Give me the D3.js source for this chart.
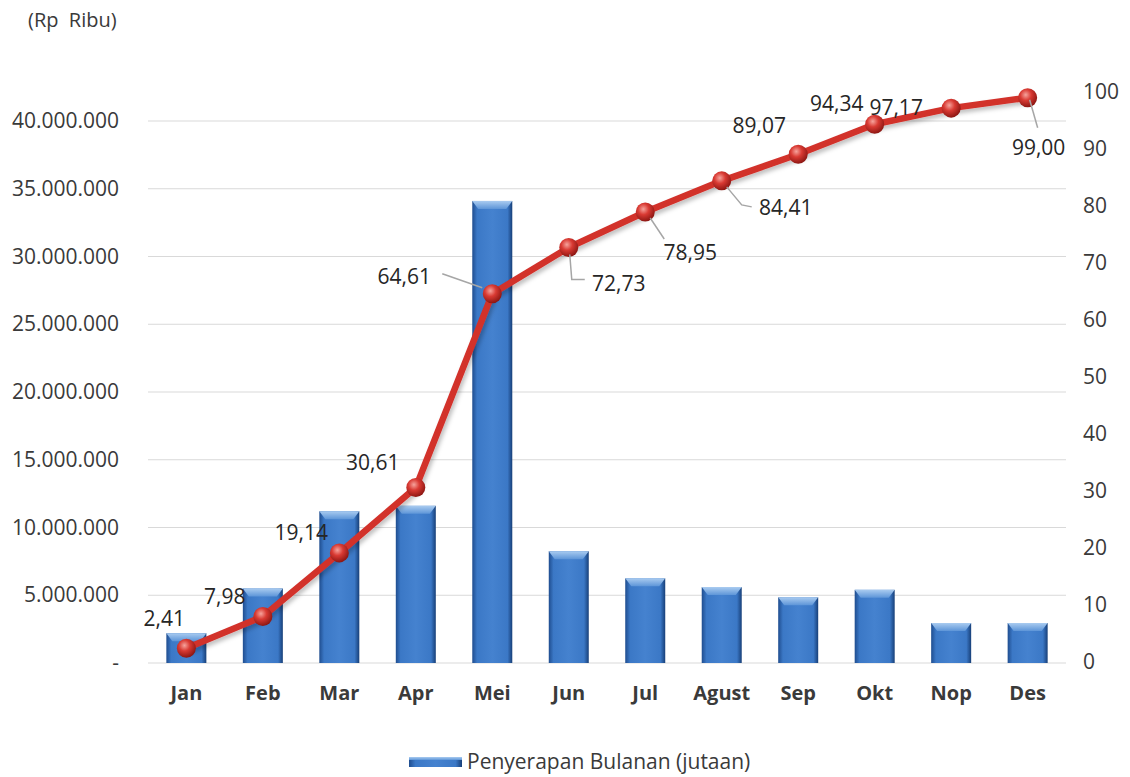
<!DOCTYPE html>
<html>
<head>
<meta charset="utf-8">
<script src="https://cdn.jsdelivr.net/npm/d3@7"></script>
<style>
  body { margin: 0; background: #fff; }
  text { font-family: "Open Sans", sans-serif; }
</style>
</head>
<body>
<script>
// data
var months = ["Jan", "Feb", "Mar", "Apr", "Mei", "Jun", "Jul", "Agust", "Sep", "Okt", "Nop", "Des"];
var monthly = [2200000, 5500000, 11200000, 11600000, 34100000, 8250000, 6250000, 5600000, 4850000, 5400000, 2950000, 2950000];
var cumulative = [2.41, 7.98, 19.14, 30.61, 64.61, 72.73, 78.95, 84.41, 89.07, 94.34, 97.17, 99.00];
var leftTicks = [0, 5000000, 10000000, 15000000, 20000000, 25000000, 30000000, 35000000, 40000000];
var rightTicks = [0, 10, 20, 30, 40, 50, 60, 70, 80, 90, 100];

// label placement (text centre relative to the point) and leader lines
var labelPos = [[-22, -30], [-38, -20], [-38, -20], [-43, -25], [-88, -17], [50, 36],
                [45, 41], [64, 27], [-39, -29], [-38, -21], [-55, 0], [11, 50]];
var leaders = [null, null, null, null, [[-50, -20], [-10, -6]], [[1, 7], [3, 32], [16, 32]],
               [[5, 6], [19, 27]], [[5, 6], [20, 24], [30, 26]], null, null, null, [[2, 2], [10, 30]]];

var W = 1130, H = 777;
var svg = d3.select("body").append("svg")
    .attr("width", W)
    .attr("height", H);

var defs = svg.append("defs");
var bg = defs.append("linearGradient").attr("id", "barGrad")
    .attr("x1", "0%").attr("x2", "100%").attr("y1", "0%").attr("y2", "0%");
bg.append("stop").attr("offset", "0%").attr("stop-color", "#1f4d8f");
bg.append("stop").attr("offset", "12%").attr("stop-color", "#3b78c6");
bg.append("stop").attr("offset", "50%").attr("stop-color", "#4582cf");
bg.append("stop").attr("offset", "88%").attr("stop-color", "#3b78c6");
bg.append("stop").attr("offset", "100%").attr("stop-color", "#173f78");

var tg = defs.append("linearGradient").attr("id", "topGrad")
    .attr("x1", "0%").attr("x2", "0%").attr("y1", "0%").attr("y2", "100%");
tg.append("stop").attr("offset", "0%").attr("stop-color", "#a9cbf0");
tg.append("stop").attr("offset", "100%").attr("stop-color", "#5d95d8");

var rg = defs.append("radialGradient").attr("id", "dotGrad")
    .attr("cx", "40%").attr("cy", "35%").attr("r", "65%");
rg.append("stop").attr("offset", "0%").attr("stop-color", "#f6a39c");
rg.append("stop").attr("offset", "45%").attr("stop-color", "#d93a33");
rg.append("stop").attr("offset", "100%").attr("stop-color", "#8e1713");

var shadow = defs.append("filter").attr("id", "shadow")
    .attr("x", "-10%").attr("y", "-10%").attr("width", "120%").attr("height", "130%");
shadow.append("feDropShadow").attr("dx", 2).attr("dy", 3).attr("stdDeviation", 2)
    .attr("flood-color", "#000").attr("flood-opacity", 0.25);

// scales
var x = d3.scaleBand().domain(months).range([148, 1066])
    .paddingInner(0.477).paddingOuter(0.24);
var yL = d3.scaleLinear().domain([0, 40000000]).range([663, 121]);
var yR = d3.scaleLinear().domain([0, 100]).range([662, 92]);

// gridlines
svg.append("g").selectAll("line")
    .data(leftTicks)
    .enter().append("line")
    .attr("x1", 148).attr("x2", 1066)
    .attr("y1", function(d) { return yL(d); })
    .attr("y2", function(d) { return yL(d); })
    .attr("stroke", "#d9d9d9")
    .attr("stroke-width", 1);

// left axis
var fmtL = function(d) { return d === 0 ? "-" : d3.format(",")(d).replace(/,/g, "."); };
var axL = svg.append("g")
    .attr("transform", "translate(131,0)")
    .call(d3.axisLeft(yL).tickValues(leftTicks).tickFormat(fmtL).tickSize(0).tickPadding(12));
axL.select(".domain").remove();
axL.selectAll("text").attr("font-size", 21).attr("fill", "#3a3a3a")
    .style("font-family", "'Open Sans', sans-serif");

// right axis
var axR = svg.append("g")
    .attr("transform", "translate(1071,0)")
    .call(d3.axisRight(yR).tickValues(rightTicks).tickSize(0).tickPadding(12));
axR.select(".domain").remove();
axR.selectAll("text").attr("font-size", 21).attr("fill", "#3a3a3a")
    .style("font-family", "'Open Sans', sans-serif");

// month labels
var axX = svg.append("g")
    .attr("transform", "translate(0,671)")
    .call(d3.axisBottom(x).tickSize(0).tickPadding(15));
axX.select(".domain").remove();
axX.selectAll("text").attr("font-size", 20).attr("font-weight", "bold").attr("fill", "#3a3a3a")
    .style("font-family", "'Open Sans', sans-serif");

// bars
var bars = svg.append("g").selectAll("g")
    .data(monthly)
    .enter().append("g");
bars.append("rect")
    .attr("x", function(d, i) { return x(months[i]); })
    .attr("y", function(d) { return yL(d); })
    .attr("width", x.bandwidth())
    .attr("height", function(d) { return yL(0) - yL(d); })
    .attr("fill", "url(#barGrad)");
bars.append("path")
    .attr("d", function(d, i) {
      var x0 = x(months[i]), x1 = x0 + x.bandwidth(), y0 = yL(d);
      return "M" + x0 + "," + y0 + "L" + x1 + "," + y0 + "L" + (x1 - 6) + "," + (y0 + 8) +
             "L" + (x0 + 6) + "," + (y0 + 8) + "Z";
    })
    .attr("fill", "url(#topGrad)");

// cumulative line
var px = function(i) { return x(months[i]) + x.bandwidth() / 2; };
var line = d3.line()
    .x(function(d, i) { return px(i); })
    .y(function(d) { return yR(d); });

svg.append("path")
    .datum(cumulative)
    .attr("d", line)
    .attr("fill", "none")
    .attr("stroke", "#d2302b")
    .attr("stroke-width", 6.5)
    .attr("stroke-linejoin", "round")
    .attr("filter", "url(#shadow)");

svg.append("g").selectAll("circle")
    .data(cumulative)
    .enter().append("circle")
    .attr("cx", function(d, i) { return px(i); })
    .attr("cy", function(d) { return yR(d); })
    .attr("r", 9.5)
    .attr("fill", "url(#dotGrad)");

// leader lines
var leaderData = cumulative.map(function(d, i) { return {v: d, i: i, pts: leaders[i]}; })
    .filter(function(o) { return o.pts !== null; });
svg.append("g").selectAll("polyline")
    .data(leaderData)
    .enter().append("polyline")
    .attr("points", function(o) {
      var cx = px(o.i), cy = yR(o.v);
      return o.pts.map(function(p) { return (cx + p[0]) + "," + (cy + p[1]); }).join(" ");
    })
    .attr("fill", "none")
    .attr("stroke", "#a6a6a6")
    .attr("stroke-width", 1.5);

// value labels
svg.append("g").selectAll("text")
    .data(cumulative)
    .enter().append("text")
    .attr("x", function(d, i) { return px(i) + labelPos[i][0]; })
    .attr("y", function(d, i) { return yR(d) + labelPos[i][1]; })
    .attr("dy", "0.35em")
    .attr("text-anchor", "middle")
    .attr("font-size", 21)
    .attr("fill", "#262626")
    .text(function(d) { return d.toFixed(2).replace(".", ","); });

// unit label
svg.append("text")
    .attr("x", 28).attr("y", 20).attr("dy", "0.35em")
    .attr("font-size", 20)
    .attr("fill", "#3a3a3a")
    .style("white-space", "pre")
    .text("(Rp  Ribu)");

// legend
svg.append("rect")
    .attr("x", 409).attr("y", 757).attr("width", 53).attr("height", 10)
    .attr("fill", "url(#barGrad)");
svg.append("rect")
    .attr("x", 409).attr("y", 757).attr("width", 53).attr("height", 3)
    .attr("fill", "url(#topGrad)");
svg.append("text")
    .attr("x", 467).attr("y", 762).attr("dy", "0.35em")
    .attr("font-size", 21)
    .attr("fill", "#3a3a3a")
    .text("Penyerapan Bulanan (jutaan)");
</script>
</body>
</html>
